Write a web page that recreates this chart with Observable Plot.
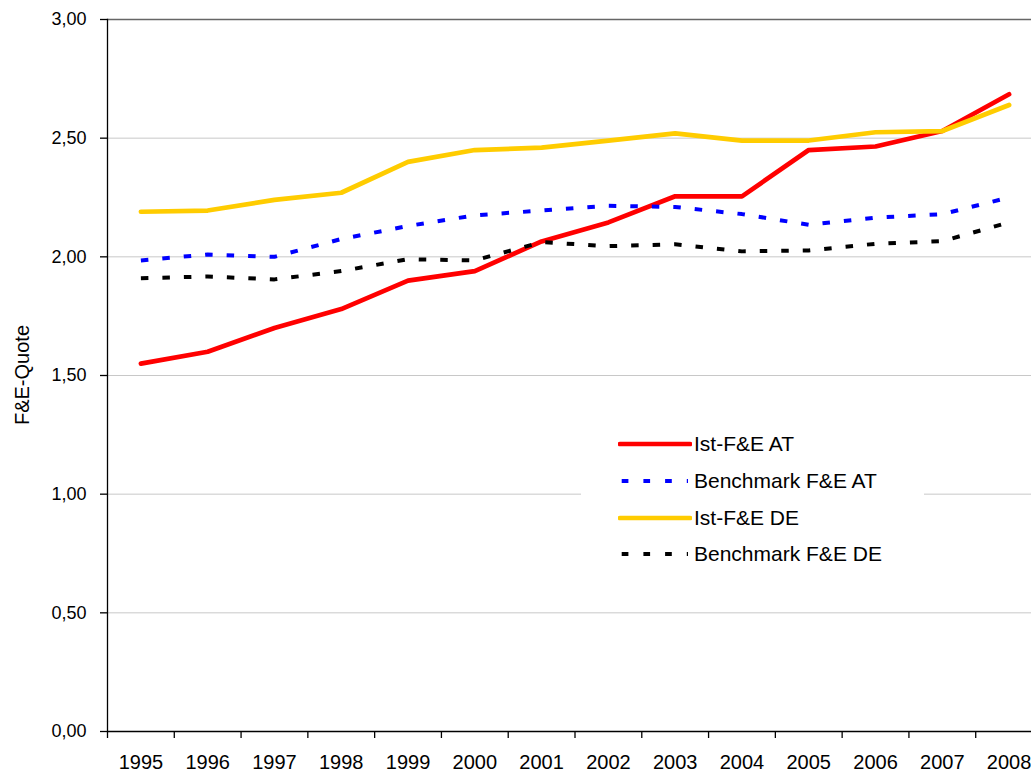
<!DOCTYPE html>
<html>
<head>
<meta charset="utf-8">
<script src="https://cdn.jsdelivr.net/npm/d3@7"></script>
<script src="https://cdn.jsdelivr.net/npm/@observablehq/plot@0.6"></script>
<style>
  html, body { margin: 0; padding: 0; background: #fff; }
  #wrap { position: relative; width: 1031px; height: 775px; overflow: hidden; font-family: "Liberation Sans", Arial, sans-serif; }
  #ylabel { position: absolute; left: 22px; top: 375px; transform: translate(-50%, -50%) rotate(-90deg); font-size: 20px; white-space: nowrap; color: #000; }
  #legend { position: absolute; left: 581px; top: 420px; width: 343px; height: 152px; background: #fff; }
  .row { position: absolute; left: 0; height: 36.7px; width: 343px; }
  .row svg { position: absolute; left: 37px; top: 13.35px; }
  .row span { position: absolute; left: 113px; top: 50%; transform: translateY(-52%); font-size: 21px; white-space: nowrap; color: #000; }
</style>
</head>
<body>
<div id="wrap">
  <div id="chart"></div>
  <div id="ylabel"></div>
  <div id="legend"></div>
</div>
<script>
const years = [1995, 1996, 1997, 1998, 1999, 2000, 2001, 2002, 2003, 2004, 2005, 2006, 2007, 2008];
const istAT   = [1.55, 1.60, 1.70, 1.78, 1.90, 1.94, 2.065, 2.145, 2.255, 2.255, 2.45, 2.465, 2.53, 2.685];
const benchAT = [1.985, 2.01, 2.00, 2.075, 2.13, 2.175, 2.195, 2.215, 2.21, 2.18, 2.135, 2.165, 2.18, 2.25];
const istDE   = [2.19, 2.195, 2.24, 2.27, 2.40, 2.45, 2.46, 2.49, 2.52, 2.49, 2.49, 2.525, 2.53, 2.64];
const benchDE = [1.91, 1.917, 1.905, 1.94, 1.99, 1.985, 2.062, 2.045, 2.053, 2.023, 2.027, 2.055, 2.066, 2.145];

const seriesNames = ["Ist-F&E AT", "Benchmark F&E AT", "Ist-F&E DE", "Benchmark F&E DE"];
const seriesValues = [istAT, benchAT, istDE, benchDE];
const seriesColors = ["#ff0000", "#0000ff", "#ffcc00", "#000000"];
const seriesDash = [null, "7.5,14", null, "7.5,14"];
const seriesWidth = [4.7, 4, 4.7, 4];

const yTicks = [0, 0.5, 1, 1.5, 2, 2.5, 3];
const yGrid = [0.5, 1, 1.5, 2, 2.5];
const yLabel = "F&E-Quote";

const fmt = d => d.toFixed(2).replace(".", ",");
const boundaries = years.map(y => y - 0.5).concat([years[years.length - 1] + 0.5]);

const lineMarks = seriesNames.map((name, i) =>
  Plot.lineY(years.map((yr, j) => ({year: yr, value: seriesValues[i][j]})), {
    x: "year", y: "value",
    stroke: seriesColors[i],
    strokeWidth: seriesWidth[i],
    strokeDasharray: seriesDash[i] || undefined,
    strokeLinecap: seriesDash[i] ? "butt" : "round",
    strokeLinejoin: "round"
  })
);

const chart = Plot.plot({
  width: 1031,
  height: 775,
  marginLeft: 107,
  marginRight: 0,
  marginTop: 19,
  marginBottom: 44,
  style: {fontFamily: "'Liberation Sans', Arial, sans-serif", fontSize: "18px", background: "#fff", color: "#000"},
  x: {type: "linear", domain: [years[0] - 0.5, years[years.length - 1] + 0.5], range: [107, 1042]},
  y: {domain: [0, 3]},
  marks: [
    Plot.ruleY(yGrid, {stroke: "#c8c8c8", strokeWidth: 1}),
    Plot.ruleY([3], {stroke: "#666", strokeWidth: 1.3}),
    ...lineMarks,
    Plot.ruleY([0], {stroke: "#000", strokeWidth: 1.3}),
    Plot.frame({anchor: "left", stroke: "#000", strokeWidth: 1.3}),
    Plot.axisY({ticks: yTicks, tickSize: 7, tickPadding: 14, tickFormat: fmt, fontSize: 18, label: null, strokeWidth: 1.3}),
    Plot.axisX({ticks: boundaries, tickSize: 7, tickFormat: () => "", label: null, strokeWidth: 1.3}),
    Plot.axisX({ticks: years, tickSize: 0, tickPadding: 23, tickFormat: d => String(d), fontSize: 20, label: null})
  ]
});
document.getElementById("chart").appendChild(chart);
document.getElementById("ylabel").textContent = yLabel;

const legend = document.getElementById("legend");
const ns = "http://www.w3.org/2000/svg";
seriesNames.forEach((name, i) => {
  const row = document.createElement("div");
  row.className = "row";
  row.style.top = (6 + i * 36.7) + "px";
  const svg = document.createElementNS(ns, "svg");
  svg.setAttribute("width", 74);
  svg.setAttribute("height", 10);
  const ln = document.createElementNS(ns, "line");
  const dashed = !!seriesDash[i];
  ln.setAttribute("x1", dashed ? 3.7 : 2);
  ln.setAttribute("x2", dashed ? 70 : 72);
  ln.setAttribute("y1", 5);
  ln.setAttribute("y2", 5);
  ln.setAttribute("stroke", seriesColors[i]);
  ln.setAttribute("stroke-width", seriesWidth[i]);
  ln.setAttribute("stroke-linecap", dashed ? "butt" : "round");
  if (dashed) ln.setAttribute("stroke-dasharray", "6.7,15");
  svg.appendChild(ln);
  row.appendChild(svg);
  const sp = document.createElement("span");
  sp.textContent = name;
  row.appendChild(sp);
  legend.appendChild(row);
});
</script>
</body>
</html>
